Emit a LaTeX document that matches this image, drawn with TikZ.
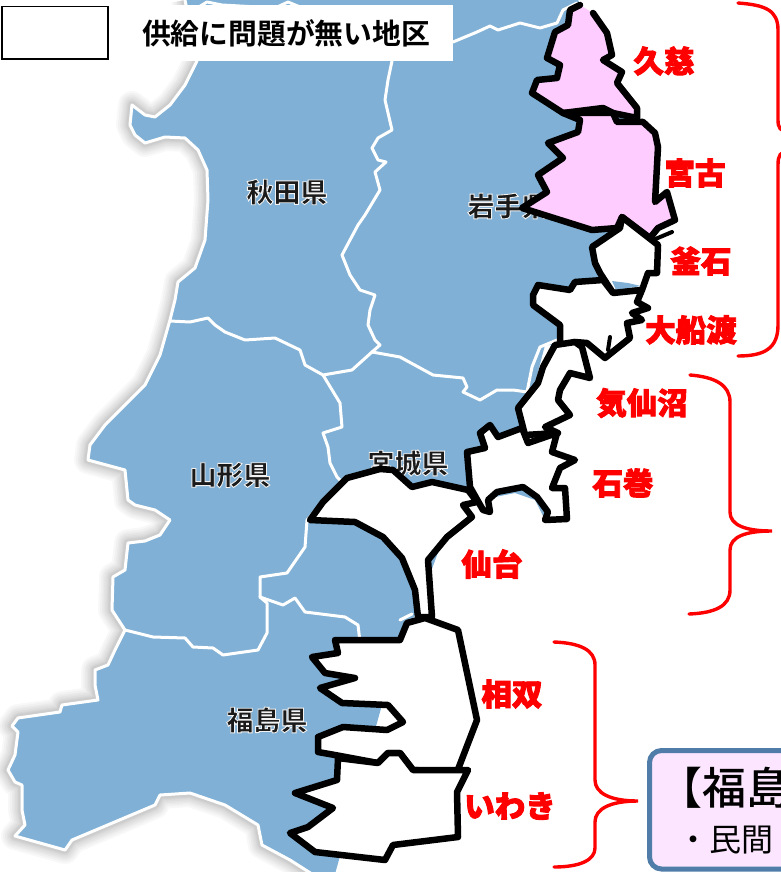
\documentclass[tikz,border=0pt]{standalone}
\usepackage{fontspec}
\setmainfont{Noto Sans CJK JP}
\newfontfamily\cjkb{Noto Sans CJK JP Bold}
\newfontfamily\cjkh{Noto Sans CJK JP Black}
\newfontfamily\cjkm{Noto Sans CJK JP Medium}
\definecolor{landblue}{HTML}{80B0D5}
\definecolor{regionpink}{HTML}{FFCCFF}
\definecolor{calloutfill}{HTML}{FCE6FF}
\definecolor{calloutedge}{HTML}{4F7CA8}
\definecolor{maptext}{HTML}{1A1A1A}
\definecolor{bracered}{HTML}{FF0000}
\newcommand{\halotext}[1]{\special{pdf:code 2 Tr 0.9 w 0.95 0.95 0.95 RG}#1\special{pdf:code 0 Tr}}
\newcommand{\heavytext}[1]{\special{pdf:code 2 Tr 0.9 w 1 0 0 RG}#1\special{pdf:code 0 Tr}}
\newcommand{\westcoast}{(185,0) -- (197,61) -- (185,85) -- (170,105) -- (155,117) -- (145,115) -- (132,105) -- (130,125) -- (135,135) -- (145,143) -- (165,137) -- (185,138) -- (198,150) -- (207,170) -- (208,200) -- (205,240) -- (195,268) -- (178,282) -- (175,300) -- (170,320) -- (160,355) -- (145,385) -- (130,400) -- (105,425) -- (90,445) -- (88,460) -- (125,470) -- (128,500) -- (135,505) -- (155,510) -- (170,520) -- (160,535) -- (145,541) -- (128,543) -- (125,570) -- (113,577) -- (112,610) -- (125,630) -- (115,650) -- (108,665) -- (95,670) -- (95,685) -- (98,700) -- (62,705) -- (60,712) -- (18,718) -- (12,726) -- (18,732) -- (15,755) -- (8,770) -- (15,782) -- (22,785) -- (22,810) -- (25,825) -- (15,836) -- (65,850) -- (72,840) -- (155,805) -- (160,795) -- (190,793) -- (225,805) -- (258,825) -- (262,845) -- (290,860) -- (312,874)}
\tikzset{
  border/.style={draw=white,line width=3pt,line join=round,line cap=round},
  region/.style={draw=black,line width=6.5pt,line join=round,line cap=round},
  brace/.style={draw=bracered,line width=3.4pt,line cap=round},
  maplabel/.style={font=\cjkh\fontsize{27}{27}\selectfont,text=maptext,inner sep=0pt},
  placelabel/.style={font=\cjkh\fontsize{30.5}{30.5}\selectfont,text=bracered,inner sep=0pt}
}
\begin{document}
\begin{tikzpicture}[x=1pt,y=-1pt]
\useasboundingbox (0,0) rectangle (781,872);
\clip (0,0) rectangle (781,872);
% soft shadow of the coast
\foreach \w in {28,24,20,17,14,11,9,7}{
  \draw[black,opacity=0.028,line width=\w pt,line join=round] \westcoast;
}
% land
\fill[landblue] \westcoast -- (335,874) -- (400,640) -- (415,615) -- (450,520) -- (480,500) -- (515,493) -- (535,500) -- (546,522) -- (555,500) -- (520,440) -- (545,345) -- (570,345) -- (600,330) -- (620,270) -- (640,225) -- (640,150) -- (625,115) -- (605,60) -- (600,40) -- (578,0) -- cycle;
\draw[border] \westcoast;
% prefecture borders
\draw[border] (197,8) -- (207,2) -- (222,5) -- (275,8) -- (288,2) -- (300,7) -- (385,7) -- (392,61);
\draw[border] (453,42) -- (477,32) -- (490,26) -- (498,30) -- (520,23) -- (540,28) -- (557,23) -- (563,10) -- (577,3);
\draw[border] (392,61) -- (388,80) -- (385,100) -- (392,130) -- (378,138) -- (372,148) -- (378,160) -- (386,162) -- (375,172) -- (380,190) -- (365,215) -- (358,225) -- (342,255) -- (350,275) -- (360,290) -- (375,295) -- (370,310) -- (368,325) -- (375,340) -- (380,345) -- (372,352);
\draw[border] (170,321) -- (190,322) -- (208,318) -- (215,325) -- (225,332) -- (245,340) -- (275,338) -- (300,350) -- (305,365) -- (323,375) -- (352,370) -- (372,352);
\draw[border] (372,352) -- (400,357) -- (433,375) -- (463,378) -- (467,387) -- (463,392) -- (480,400) -- (497,390) -- (513,390) -- (527,392) -- (532,367) -- (540,347) -- (557,340);
\draw[border] (323,375) -- (340,403) -- (342,427) -- (323,433) -- (328,447) -- (330,463) -- (337,477) -- (345,485);
\draw[border] (320,505) -- (307,520) -- (305,547) -- (287,573) -- (260,577) -- (260,597) -- (267,603) -- (267,633) -- (258,650) -- (223,655) -- (213,648) -- (193,647) -- (185,638) -- (153,637) -- (125,630);
\draw[border] (260,597) -- (283,605) -- (295,598) -- (305,612) -- (345,617) -- (358,625) -- (360,642);
\draw[border] (400,620) -- (412,614);
% prefecture names
\node[maplabel] (akita) at (287,192) {\halotext{秋田県}};
\node[maplabel] (iwate) at (508,206) {\halotext{岩手県}};
\node[maplabel] (yamagata) at (230,475) {\halotext{山形県}};
\node[maplabel] (miyagi) at (408,463) {\halotext{宮城県}};
\node[maplabel] (fukushima) at (267,720) {\halotext{福島県}};
% Kuji
\fill[regionpink] (580,5) -- (570,10) -- (568,25) -- (555,32) -- (547,58) -- (560,65) -- (557,78) -- (537,80) -- (532,93) -- (563,113) -- (603,108) -- (613,113) -- (637,118) -- (637,108) -- (617,83) -- (622,72) -- (603,60) -- (612,55) -- (607,33) -- (593,13) -- cycle;
\draw[region] (580,5) -- (570,10) -- (568,25) -- (555,32) -- (547,58) -- (560,65) -- (557,78) -- (537,80) -- (532,93) -- (563,113) -- (603,108) -- (613,113) -- (637,118) -- (637,108) -- (617,83) -- (622,72) -- (603,60) -- (612,55) -- (607,33) -- (593,13);
% Miyako
\draw[region,fill=regionpink] (563,113) -- (580,120) -- (578,132) -- (548,143) -- (563,158) -- (538,175) -- (547,192) -- (522,208) -- (592,230) -- (617,228) -- (622,217) -- (650,238) -- (658,228) -- (675,220) -- (667,192) -- (655,202) -- (658,147) -- (655,133) -- (643,122) -- (617,122) -- (613,113) -- cycle;
\draw[region,line width=4pt] (653,240) -- (672,232);
% Kamaishi
\draw[region,fill=white] (592,247) -- (620,228) -- (622,217) -- (658,245) -- (657,273) -- (648,273) -- (642,290) -- (613,293) -- (600,273) -- (595,263) -- cycle;
\fill[landblue] (612,281) -- (628,283) -- (641,286) -- (616,290) -- cycle;
% Ofunato
\draw[region,fill=white] (538,285) -- (570,290) -- (575,282) -- (603,280) -- (613,293) -- (642,290) -- (637,302) -- (648,308) -- (632,313) -- (642,320) -- (627,323) -- (630,338) -- (605,358) -- (587,343) -- (575,342) -- (560,347) -- (560,325) -- (533,305) -- (533,295) -- cycle;
\draw[region,line width=4pt] (610,337) -- (608,350);
% Kesennuma
\draw[region,fill=white] (555,345) -- (543,367) -- (538,383) -- (518,408) -- (525,435) -- (558,433) -- (545,427) -- (570,415) -- (558,400) -- (560,390) -- (570,373) -- (590,378) -- (582,347) -- (575,342) -- cycle;
% Ishinomaki
\draw[region,fill=white] (480,433) -- (485,448) -- (467,452) -- (470,487) -- (483,510) -- (490,512) -- (488,500) -- (497,492) -- (523,487) -- (537,497) -- (548,512) -- (545,520) -- (567,519) -- (565,488) -- (552,488) -- (560,468) -- (575,460) -- (552,452) -- (557,433) -- (528,443) -- (522,428) -- (498,437) -- (490,425) -- cycle;
% Sendai
\draw[region,fill=white] (310,520) -- (323,502) -- (347,478) -- (380,469) -- (393,470) -- (412,487) -- (432,482) -- (468,490) -- (477,502) -- (463,505) -- (472,517) -- (447,537) -- (428,560) -- (432,617) -- (418,617) -- (415,590) -- (402,558) -- (383,537) -- (355,522) -- cycle;
% Soso
\draw[region,fill=white] (425,618) -- (407,623) -- (400,640) -- (335,640) -- (338,653) -- (312,657) -- (325,673) -- (355,678) -- (320,688) -- (342,703) -- (388,705) -- (403,722) -- (387,730) -- (343,727) -- (318,737) -- (318,752) -- (335,755) -- (378,763) -- (388,753) -- (400,753) -- (413,770) -- (457,772) -- (477,720) -- (458,630) -- cycle;
% Iwaki
\draw[region,fill=white] (338,758) -- (337,780) -- (295,793) -- (333,808) -- (308,827) -- (290,833) -- (315,852) -- (385,860) -- (393,845) -- (458,837) -- (457,792) -- (468,770) -- (413,770) -- (400,753) -- (388,753) -- (378,763) -- cycle;
% place names
\node[placelabel] (kuji) at (664,61) {\heavytext{久慈}};
\node[placelabel] (miyako) at (695,173) {\heavytext{宮古}};
\node[placelabel] (kamaishi) at (701,261) {\heavytext{釜石}};
\node[placelabel] (ofunato) at (691,330) {\heavytext{大船渡}};
\node[placelabel] (kesennuma) at (642,403) {\heavytext{気仙沼}};
\node[placelabel] (ishinomaki) at (623,483) {\heavytext{石巻}};
\node[placelabel] (sendai) at (492,564) {\heavytext{仙台}};
\node[placelabel] (soso) at (512,694) {\heavytext{相双}};
\node[placelabel] (iwaki) at (510,806) {\heavytext{いわき}};
% braces
\draw[brace] (738,3) .. controls (765,5) and (778,10) .. (778,30) -- (778,120) .. controls (778,128) and (780,131) .. (790,133);
\draw[brace] (790,150) .. controls (780,152) and (778,155) .. (778,165) -- (778,325) .. controls (778,348) and (765,356) .. (738,356);
\draw[brace] (690,375) .. controls (715,377) and (730,385) .. (730,402) -- (730,512) .. controls (730,525) and (745,531) .. (772,531) .. controls (745,531) and (730,537) .. (730,550) -- (730,590) .. controls (730,606) and (715,613) .. (689,614);
\draw[brace] (554,642) .. controls (580,643) and (595,650) .. (595,665) -- (595,780) .. controls (595,793) and (610,801) .. (638,801) .. controls (610,801) and (595,809) .. (595,822) -- (595,848) .. controls (595,860) and (580,867) .. (554,867);
% callout
\draw[draw=calloutedge,fill=calloutfill,line width=5pt,rounded corners=12pt] (649.5,750.5) rectangle (830,869);
\node[anchor=west,inner sep=0pt,font=\cjkm\fontsize{44}{44}\selectfont,text=black] (callouthead) at (658,788) {【福島};
\node[anchor=west,inner sep=0pt,font=\fontsize{32}{32}\selectfont,text=black] (calloutbody) at (677,840) {・民間};
% legend
\draw[draw=black,fill=white,line width=1.8pt] (2,6.5) rectangle (108,59);
\fill[white] (140,5) rectangle (453,61);
\node[font=\cjkb\fontsize{28.8}{28.8}\selectfont,text=black,inner sep=0pt] (legendtext) at (286,33) {供給に問題が無い地区};
\end{tikzpicture}
\end{document}
